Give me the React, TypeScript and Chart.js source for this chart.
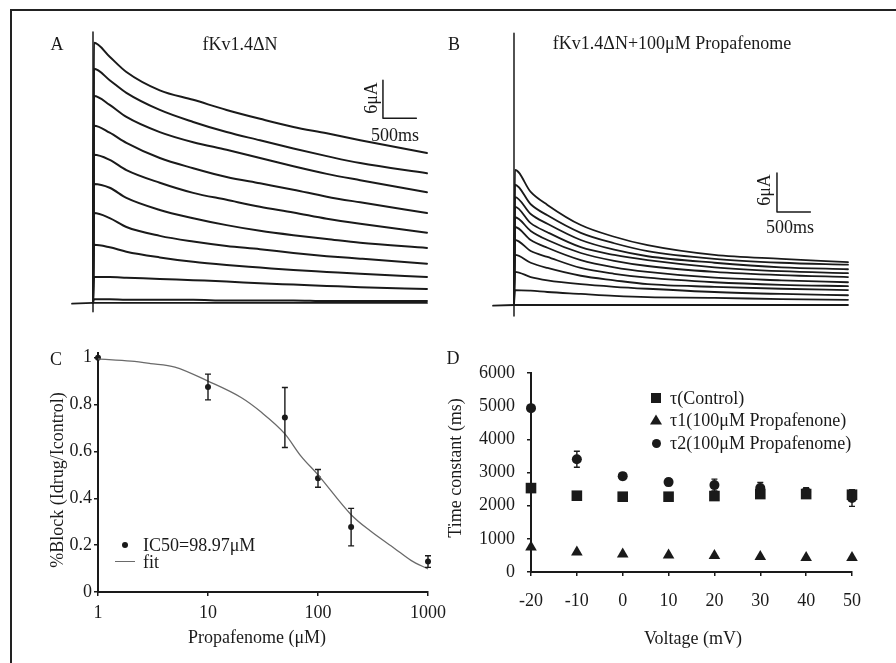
import React, { useEffect, useRef } from "react";
import { Chart, registerables } from "chart.js";

Chart.register(...registerables);

// ---------------- Panel A: fKv1.4ΔN control currents (time ms, current μA) ----------------
const timesA = [0, 15, 250, 500, 1000, 1500, 2000, 2500, 3000, 3500, 4000, 5000];
const currentA1 = [0, 41.1, 38.9, 36.5, 33.6, 32.1, 30.5, 29.1, 27.8, 26.8, 25.7, 23.7];
const currentA2 = [0, 37.0, 35.2, 33.2, 30.5, 28.6, 27.0, 25.7, 24.4, 23.2, 22.1, 20.5];
const currentA3 = [0, 32.7, 31.3, 29.4, 27.0, 25.4, 24.2, 22.9, 21.6, 20.4, 19.4, 17.5];
const currentA4 = [0, 28.0, 26.9, 25.3, 22.9, 21.3, 19.9, 18.9, 17.9, 16.8, 15.9, 14.2];
const currentA5 = [0, 23.4, 22.6, 21.0, 19.0, 17.4, 16.3, 15.2, 14.3, 13.3, 12.5, 11.1];
const currentA6 = [0, 18.8, 18.2, 16.6, 14.7, 13.4, 12.3, 11.4, 10.7, 10.1, 9.5, 8.7];
const currentA7 = [0, 14.2, 13.4, 12.0, 10.6, 9.7, 9.0, 8.5, 7.9, 7.4, 7.0, 6.2];
const currentA8 = [0, 9.2, 8.8, 8.1, 7.2, 6.5, 6.0, 5.6, 5.2, 4.9, 4.6, 4.1];
const currentA9 = [0, 4.1, 4.1, 4.0, 3.8, 3.6, 3.4, 3.1, 2.9, 2.7, 2.5, 2.2];
const currentA10 = [0, 0.6, 0.6, 0.5, 0.5, 0.5, 0.4, 0.4, 0.4, 0.3, 0.3, 0.3];

// ---------------- Panel B: + 100μM Propafenome ----------------
const timesB = [0, 15, 250, 500, 1000, 1500, 2000, 3000, 4000, 5000];
const currentB1 = [0, 20.8, 17.4, 15.4, 12.3, 10.5, 9.2, 7.7, 7.1, 6.6];
const currentB2 = [0, 18.5, 15.5, 13.8, 11.1, 9.5, 8.3, 7.1, 6.5, 6.2];
const currentB3 = [0, 16.6, 14.0, 12.5, 10.0, 8.5, 7.5, 6.5, 5.8, 5.5];
const currentB4 = [0, 15.1, 12.6, 11.2, 8.9, 7.7, 6.9, 5.8, 5.2, 4.9];
const currentB5 = [0, 13.5, 11.4, 10.0, 8.0, 6.8, 6.0, 5.1, 4.6, 4.3];
const currentB6 = [0, 12.0, 10.0, 8.8, 6.9, 5.8, 5.1, 4.2, 3.8, 3.5];
const currentB7 = [0, 10.0, 8.3, 7.4, 5.7, 4.8, 4.2, 3.5, 3.1, 2.9];
const currentB8 = [0, 7.7, 6.5, 5.7, 4.5, 3.8, 3.2, 2.8, 2.5, 2.3];
const currentB9 = [0, 5.1, 4.3, 3.8, 3.2, 2.8, 2.5, 2.0, 1.7, 1.5];
const currentB10 = [0, 2.3, 2.2, 2.0, 1.7, 1.4, 1.2, 1.1, 0.9, 0.8];

// ---------------- Panel C: concentration-response ----------------
const concC = [1, 10, 50, 100, 200, 1000];
const blockC = [1.0, 0.875, 0.745, 0.485, 0.277, 0.13];
const blockErrC = [0, 0.055, 0.128, 0.038, 0.08, 0.025];
const fitConcC = [1, 2, 3, 5, 10, 20, 30, 50, 70, 100, 200, 300, 500, 700, 1000];
const fitBlockC = [0.995, 0.985, 0.975, 0.96, 0.9, 0.83, 0.77, 0.675, 0.58, 0.5, 0.33, 0.26, 0.185, 0.135, 0.098];
const cTicksX = [1, 10, 100, 1000];
const cTicksY = [0, 0.2, 0.4, 0.6, 0.8, 1];

// ---------------- Panel D: time constants vs voltage ----------------
const voltD = [-20, -10, 0, 10, 20, 30, 40, 50];
const tauControl = [2530, 2300, 2270, 2270, 2290, 2350, 2350, 2330];
const tau1Drug = [750, 600, 540, 510, 490, 460, 430, 430];
const tau2Drug = [4940, 3400, 2890, 2710, 2620, 2530, 2410, 2230];
const tau2DrugErr = [0, 240, 100, 100, 180, 170, 130, 250];
const dTicksX = [-20, -10, 0, 10, 20, 30, 40, 50];
const dTicksY = [0, 1000, 2000, 3000, 4000, 5000, 6000];

const FONT = '"Liberation Serif", "Times New Roman", Times, serif';
const INK = "#1a1a1a";

const pts = (xs: number[], ys: number[]) => xs.map((x, i) => ({ x, y: ys[i] }));

function ChartCanvas({ left, top, width, height, make }: any) {
  const ref = useRef<HTMLCanvasElement>(null);
  useEffect(() => {
    const chart = new Chart(ref.current as HTMLCanvasElement, make());
    return () => chart.destroy();
  }, []);
  return (
    <canvas
      ref={ref}
      width={width}
      height={height}
      style={{ position: "absolute", left, top, width, height }}
    />
  );
}

function baseOptions(extra: any) {
  return {
    responsive: false,
    maintainAspectRatio: false,
    animation: false,
    events: [],
    plugins: { legend: { display: false }, tooltip: { enabled: false } },
    ...extra,
  };
}

function traceChart(times: number[], traces: number[][], xr: number[], yr: number[], axisTop: number, axisBottom: number, bar: any, lw: number) {
  const lineDs = (data: any, w: number, tension = 0) => ({
    data,
    borderColor: INK,
    borderWidth: w,
    pointRadius: 0,
    tension,
    fill: false,
    borderJoinStyle: "round",
    borderCapStyle: "round",
  });
  const datasets: any[] = traces.map((tr) => ({
    ...lineDs(pts(times, tr), lw),
    cubicInterpolationMode: "monotone",
  }));
  datasets.push(lineDs([{ x: -314, y: -0.1 }, { x: 0, y: 0 }, { x: 5000, y: 0 }], 1.8));
  datasets.push(lineDs([{ x: 0, y: axisTop }, { x: 0, y: axisBottom }], 1.5));
  datasets.push(
    lineDs(
      [
        { x: bar.t, y: bar.i + bar.di },
        { x: bar.t, y: bar.i },
        { x: bar.t + bar.dt, y: bar.i },
      ],
      1.5
    )
  );
  return {
    type: "line",
    data: { datasets },
    options: baseOptions({
      layout: { padding: 0 },
      scales: {
        x: { type: "linear", display: false, min: xr[0], max: xr[1] },
        y: { type: "linear", display: false, min: yr[0], max: yr[1] },
      },
    }),
  };
}

function errorBars(dsIndex: number, errs: number[], cap: number) {
  return {
    id: "errbars" + dsIndex,
    afterDatasetsDraw(chart: any) {
      const ctx = chart.ctx;
      const xs = chart.scales.x;
      const ys = chart.scales.y;
      const ds = chart.data.datasets[dsIndex];
      ctx.save();
      ctx.strokeStyle = INK;
      ctx.lineWidth = 1.4;
      ds.data.forEach((p: any, i: number) => {
        const e = errs[i];
        if (!e) return;
        const x = xs.getPixelForValue(p.x);
        const y1 = ys.getPixelForValue(p.y + e);
        const y2 = ys.getPixelForValue(p.y - e);
        ctx.beginPath();
        ctx.moveTo(x, y1);
        ctx.lineTo(x, y2);
        ctx.moveTo(x - cap, y1);
        ctx.lineTo(x + cap, y1);
        ctx.moveTo(x - cap, y2);
        ctx.lineTo(x + cap, y2);
        ctx.stroke();
      });
      ctx.restore();
    },
  };
}

const tickFont = { family: FONT, size: 18 };

function axisCommon(extra: any) {
  return {
    grid: { display: true, drawOnChartArea: false, drawTicks: true, tickLength: 4, color: INK, lineWidth: 1.5 },
    border: { display: true, color: INK, width: 2 },
    ...extra,
  };
}

function makeA() {
  return traceChart(
    timesA,
    [currentA1, currentA2, currentA3, currentA4, currentA5, currentA6, currentA7, currentA8, currentA9, currentA10],
    [-494, 5195],
    [-2.69, 44.71],
    42.8,
    -1.4,
    { t: 4341, i: 29.2, di: 6, dt: 500 },
    2
  );
}

function makeB() {
  return traceChart(
    timesB,
    [currentB1, currentB2, currentB3, currentB4, currentB5, currentB6, currentB7, currentB8, currentB9, currentB10],
    [-509, 5180],
    [-2.31, 43.85],
    41.8,
    -1.7,
    { t: 3937, i: 14.3, di: 6, dt: 500 },
    1.8
  );
}

function makeC() {
  return {
    type: "line",
    data: {
      datasets: [
        {
          data: pts(fitConcC, fitBlockC),
          borderColor: "#6a6a6a",
          borderWidth: 1.3,
          pointRadius: 0,
          cubicInterpolationMode: "monotone",
          fill: false,
          clip: false,
        },
        {
          data: pts(concC, blockC),
          showLine: false,
          pointRadius: 3,
          pointBackgroundColor: INK,
          pointBorderColor: INK,
          pointBorderWidth: 0,
          clip: false,
        },
      ],
    },
    options: baseOptions({
      layout: { padding: { top: 23, right: 32, left: 0, bottom: 0 } },
      scales: {
        x: axisCommon({
          type: "logarithmic",
          min: 1,
          max: 1000,
          afterBuildTicks: (s: any) => {
            s.ticks = cTicksX.map((v) => ({ value: v }));
          },
          afterFit: (s: any) => {
            s.height = 38;
          },
          ticks: { callback: (v: any) => String(v), font: tickFont, color: INK, padding: 6, maxRotation: 0, autoSkip: false },
        }),
        y: axisCommon({
          type: "linear",
          min: 0,
          max: 1.02,
          afterBuildTicks: (s: any) => {
            s.ticks = cTicksY.map((v) => ({ value: v }));
          },
          afterFit: (s: any) => {
            s.width = 58;
          },
          ticks: { callback: (v: any) => String(v), font: tickFont, color: INK, padding: 2 },
        }),
      },
    }),
    plugins: [errorBars(1, blockErrC, 3)],
  };
}

function makeD() {
  const marker = (data: number[], style: string, r: number) => ({
    data: pts(voltD, data),
    showLine: false,
    pointStyle: style,
    pointRadius: r,
    pointBackgroundColor: INK,
    pointBorderColor: INK,
    pointBorderWidth: 0,
    clip: false,
  });
  return {
    type: "line",
    data: {
      datasets: [marker(tauControl, "rect", 7.5), marker(tau1Drug, "triangle", 6.7), marker(tau2Drug, "circle", 5)],
    },
    options: baseOptions({
      layout: { padding: { top: 23, right: 28, left: 0, bottom: 0 } },
      scales: {
        x: axisCommon({
          type: "linear",
          min: -20,
          max: 50,
          afterBuildTicks: (s: any) => {
            s.ticks = dTicksX.map((v) => ({ value: v }));
          },
          afterFit: (s: any) => {
            s.height = 48;
          },
          ticks: { callback: (v: any) => String(v), font: tickFont, color: INK, padding: 14, maxRotation: 0, autoSkip: false },
        }),
        y: axisCommon({
          type: "linear",
          min: 0,
          max: 6000,
          afterBuildTicks: (s: any) => {
            s.ticks = dTicksY.map((v) => ({ value: v }));
          },
          afterFit: (s: any) => {
            s.width = 71;
          },
          ticks: { callback: (v: any) => String(v), font: tickFont, color: INK, padding: 12 },
        }),
      },
    }),
    plugins: [errorBars(2, tau2DrugErr, 3)],
  };
}

function Txt({ x, y, children, rotate = 0, left = false }: any) {
  return (
    <div
      style={{
        position: "absolute",
        left: x,
        top: y,
        transform: `translate(${left ? "0" : "-50%"}, -50%) rotate(${rotate}deg)`,
        fontFamily: FONT,
        fontSize: 18,
        lineHeight: 1,
        color: INK,
        whiteSpace: "nowrap",
      }}
    >
      {children}
    </div>
  );
}

function Shape({ x, y, kind }: any) {
  if (kind === "square")
    return <div style={{ position: "absolute", left: x - 5, top: y - 5, width: 10, height: 10, background: INK }} />;
  if (kind === "circle")
    return <div style={{ position: "absolute", left: x - 4.5, top: y - 4.5, width: 9, height: 9, borderRadius: "50%", background: INK }} />;
  if (kind === "dot")
    return <div style={{ position: "absolute", left: x - 3, top: y - 3, width: 6, height: 6, borderRadius: "50%", background: INK }} />;
  return (
    <svg style={{ position: "absolute", left: x - 6, top: y - 6 }} width={12} height={11}>
      <polygon points="6,0.5 12,10.5 0,10.5" fill={INK} />
    </svg>
  );
}

export default function App() {
  return (
    <div
      style={{
        position: "absolute",
        left: 0,
        top: 0,
        width: 896,
        height: 663,
        overflow: "hidden",
        background: "#fff",
      }}
    >
      <div
        style={{
          position: "absolute",
          left: 10,
          top: 9,
          width: 900,
          height: 700,
          borderTop: "2px solid #222",
          borderLeft: "2px solid #222",
        }}
      />
      <ChartCanvas left={60} top={20} width={380} height={300} make={makeA} />
      <ChartCanvas left={480} top={20} width={380} height={300} make={makeB} />
      <ChartCanvas left={40} top={330} width={420} height={300} make={makeC} />
      <ChartCanvas left={460} top={350} width={420} height={270} make={makeD} />

      {/* Panel A */}
      <Txt x={57} y={44}>A</Txt>
      <Txt x={240} y={44}>fKv1.4ΔN</Txt>
      <Txt x={371} y={98} rotate={-90}>6μA</Txt>
      <Txt x={395} y={135}>500ms</Txt>

      {/* Panel B */}
      <Txt x={454} y={44}>B</Txt>
      <Txt x={672} y={43}>fKv1.4ΔN+100μM Propafenome</Txt>
      <Txt x={764} y={190} rotate={-90}>6μA</Txt>
      <Txt x={790} y={227}>500ms</Txt>

      {/* Panel C */}
      <Txt x={56} y={359}>C</Txt>
      <Txt x={57} y={480} rotate={-90}>%Block (Idrug/Icontrol)</Txt>
      <Txt x={257} y={637}>Propafenome (μM)</Txt>
      <Shape x={125} y={545} kind="dot" />
      <Txt x={143} y={545} left>IC50=98.97μM</Txt>
      <div style={{ position: "absolute", left: 115, top: 560.5, width: 20, height: 1.5, background: "#6a6a6a" }} />
      <Txt x={143} y={562} left>fit</Txt>

      {/* Panel D */}
      <Txt x={453} y={358}>D</Txt>
      <Txt x={455} y={468} rotate={-90}>Time constant (ms)</Txt>
      <Txt x={693} y={638}>Voltage (mV)</Txt>
      <Shape x={656} y={398} kind="square" />
      <Txt x={670} y={398} left>τ(Control)</Txt>
      <Shape x={656} y={420} kind="triangle" />
      <Txt x={670} y={420} left>τ1(100μM Propafenone)</Txt>
      <Shape x={656} y={443} kind="circle" />
      <Txt x={670} y={443} left>τ2(100μM Propafenome)</Txt>
    </div>
  );
}
